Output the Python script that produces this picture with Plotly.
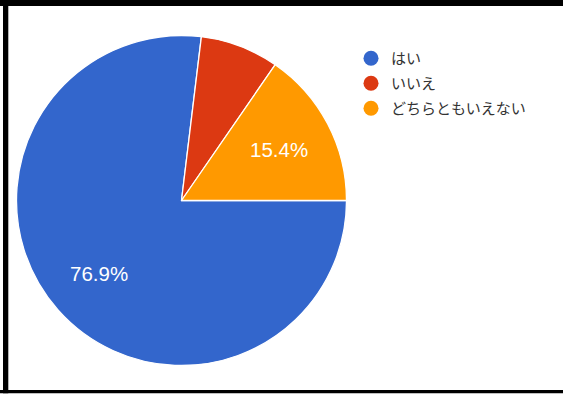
import math
import plotly.graph_objects as go

# Data
categories = ["はい", "いいえ", "どちらともいえない"]
values = [10, 1, 2]
colors = ["#3366cc", "#dc3912", "#ff9900"]

W, H = 563, 394

def px_x(x):
    return x / W

def px_y(y):
    return 1 - y / H

fig = go.Figure()

cx, cy, r = 181.5, 200.5, 165
start_deg = 90  # first slice starts at 3 o'clock, clockwise
fig.add_trace(go.Pie(
    labels=categories,
    values=values,
    sort=False,
    direction="clockwise",
    rotation=start_deg,
    marker=dict(colors=colors, line=dict(color="white", width=1.3)),
    textinfo="none",
    domain=dict(x=[px_x(cx - r), px_x(cx + r)], y=[px_y(cy + r), px_y(cy - r)]),
    showlegend=False,
    hoverinfo="label+percent",
))

# Percent labels placed along each slice's bisector (small slices unlabeled)
total = sum(values)
annotations = []
acc = 0.0
for v in values:
    frac = v / total
    mid = start_deg + 360 * (acc + frac / 2)
    acc += frac
    if frac < 0.1:
        continue
    th = math.radians(mid)
    lx = cx + 0.67 * r * math.sin(th)
    ly = cy - 0.67 * r * math.cos(th)
    annotations.append(dict(
        x=px_x(lx), y=px_y(ly), xref="paper", yref="paper",
        text=f"{frac * 100:.1f}%", showarrow=False,
        xanchor="center", yanchor="middle",
        font=dict(family="Arial, Liberation Sans, sans-serif", size=20.5, color="white"),
    ))

# Legend entries with circular symbols
for i, (name, col) in enumerate(zip(categories, colors)):
    fig.add_trace(go.Scatter(
        x=[None], y=[None], mode="markers", name=name,
        legendgroup=f"g{i}",
        marker=dict(symbol="circle", size=15, color=col),
        showlegend=True,
    ))

fig.update_xaxes(visible=False)
fig.update_yaxes(visible=False)

border = "#000000"
shapes = [
    dict(type="rect", xref="paper", yref="paper", x0=0, x1=1, y0=px_y(6), y1=px_y(0),
         fillcolor=border, line=dict(width=0)),
    dict(type="rect", xref="paper", yref="paper", x0=px_x(3), x1=px_x(8.3), y0=px_y(393.3), y1=px_y(0),
         fillcolor=border, line=dict(width=0)),
    dict(type="rect", xref="paper", yref="paper", x0=0, x1=1, y0=px_y(393.3), y1=px_y(390),
         fillcolor=border, line=dict(width=0)),
]

fig.update_layout(
    width=W, height=H,
    margin=dict(l=0, r=0, t=0, b=0),
    paper_bgcolor="white",
    plot_bgcolor="white",
    shapes=shapes,
    annotations=annotations,
    legend=dict(
        x=px_x(351), y=px_y(42), xanchor="left", yanchor="top",
        font=dict(family="Noto Sans CJK JP, Arial, sans-serif", size=15, color="#333333"),
        bgcolor="rgba(0,0,0,0)",
        itemwidth=30,
        tracegroupgap=2.5,
    ),
)

fig.write_html(
    "out.html",
    config={"displayModeBar": False},
    post_script="document.body.style.margin='0';document.body.style.overflow='hidden';",
)
